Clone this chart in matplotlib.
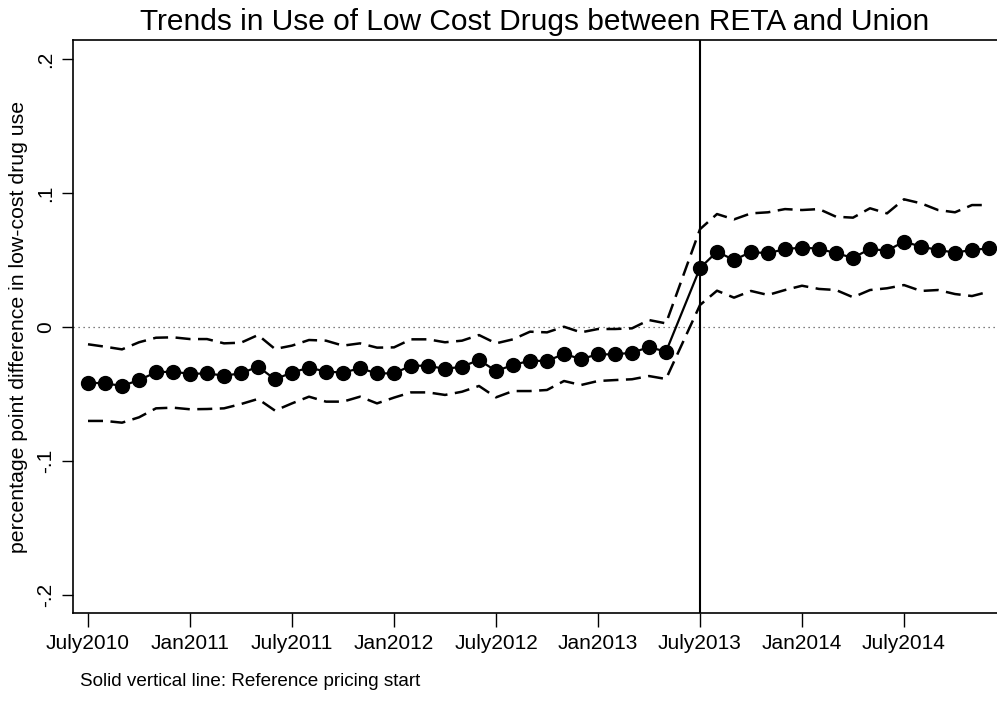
import matplotlib
matplotlib.use("Agg")
import matplotlib.pyplot as plt

plt.rcParams['font.family'] = ['Liberation Sans', 'DejaVu Sans']

# months since July 2010 (June 2013 not estimated)
months = list(range(0, 35)) + list(range(36, 54))

# point estimates
coef = [-0.0416, -0.0420, -0.0440, -0.0396, -0.0338, -0.0333, -0.0350, -0.0346,
        -0.0363, -0.0346, -0.0296, -0.0390, -0.0340, -0.0303, -0.0333, -0.0340,
        -0.0308, -0.0346, -0.0346, -0.0289, -0.0289, -0.0313, -0.0296, -0.0246,
        -0.0328, -0.0284, -0.0251, -0.0254, -0.0201, -0.0239, -0.0204, -0.0204,
        -0.0192, -0.0150, -0.0184,
        0.0440, 0.0562, 0.0500, 0.0560, 0.0550, 0.0582, 0.0592, 0.0585, 0.0550,
        0.0517, 0.0582, 0.0570, 0.0637, 0.0600, 0.0575, 0.0555, 0.0575, 0.0587]

# upper 95% CI
ci_hi = [-0.0129, -0.0147, -0.0167, -0.0114, -0.0080, -0.0077, -0.0090, -0.0090,
         -0.0122, -0.0117, -0.0060, -0.0164, -0.0139, -0.0097, -0.0102, -0.0139,
         -0.0122, -0.0154, -0.0152, -0.0092, -0.0092, -0.0114, -0.0102, -0.0060,
         -0.0122, -0.0092, -0.0035, -0.0040, 0.0002, -0.0040, -0.0015, -0.0015,
         -0.0010, 0.0052, 0.0027,
         0.0730, 0.0843, 0.0803, 0.0848, 0.0856, 0.0880, 0.0873, 0.0880, 0.0823,
         0.0816, 0.0886, 0.0848, 0.0953, 0.0923, 0.0873, 0.0856, 0.0910, 0.0910]

# lower 95% CI
ci_lo = [-0.0701, -0.0701, -0.0714, -0.0674, -0.0607, -0.0602, -0.0614, -0.0612,
         -0.0607, -0.0575, -0.0537, -0.0624, -0.0570, -0.0520, -0.0557, -0.0557,
         -0.0520, -0.0570, -0.0527, -0.0488, -0.0488, -0.0507, -0.0483, -0.0440,
         -0.0525, -0.0478, -0.0478, -0.0470, -0.0403, -0.0433, -0.0403, -0.0396,
         -0.0390, -0.0366, -0.0388,
         0.0164, 0.0271, 0.0219, 0.0269, 0.0239, 0.0276, 0.0308, 0.0284, 0.0276,
         0.0222, 0.0276, 0.0289, 0.0313, 0.0269, 0.0276, 0.0246, 0.0231, 0.0264]

tick_pos = [0, 6, 12, 18, 24, 30, 36, 42, 48]
tick_labels = ['July2010', 'Jan2011', 'July2011', 'Jan2012', 'July2012',
               'Jan2013', 'July2013', 'Jan2014', 'July2014']
y_ticks = [-0.2, -0.1, 0, 0.1, 0.2]
y_tick_labels = ['-.2', '-.1', '0', '.1', '.2']
policy_month = 36

fig = plt.figure(figsize=(9.97, 7.17), dpi=100)
ax = fig.add_axes([73 / 997, 1 - 613 / 717, 924 / 997, 573 / 717])

ax.axhline(0, color='#555555', linestyle=(0, (1, 3)), linewidth=0.9, zorder=1)
ax.axvline(policy_month, color='black', linewidth=1.5, zorder=2)

ax.plot(months, ci_hi, color='black', linestyle=(0, (6, 3)), linewidth=1.8, zorder=3)
ax.plot(months, ci_lo, color='black', linestyle=(0, (6, 3)), linewidth=1.8, zorder=3)
ax.plot(months, coef, color='black', linewidth=1.6, marker='o', markersize=10,
        zorder=4)

ax.set_xlim(-15 / 17, 909 / 17)
ax.set_ylim((327 - 613) / 1340, (327 - 40) / 1340)

ax.set_xticks(tick_pos)
ax.set_xticklabels(tick_labels, fontsize=15)
ax.set_yticks(y_ticks)
ax.set_yticklabels(y_tick_labels, fontsize=15, rotation=90, va='center')
ax.tick_params(axis='x', direction='out', length=10, width=1, pad=5)
ax.tick_params(axis='y', direction='out', length=8, width=1, pad=5)

ax.spines['right'].set_visible(False)
for s in ['left', 'bottom', 'top']:
    ax.spines[s].set_linewidth(1.2)

ax.set_ylabel('percentage point difference in low-cost drug use', fontsize=15.3,
              labelpad=6)
ax.set_title('Trends in Use of Low Cost Drugs between RETA and Union',
             fontsize=21.5, pad=7)

fig.text(80 / 997, 1 - 682 / 717, 'Solid vertical line: Reference pricing start',
         fontsize=13.6, va='center', ha='left')

fig.savefig('out.png', dpi=100, facecolor='white')
